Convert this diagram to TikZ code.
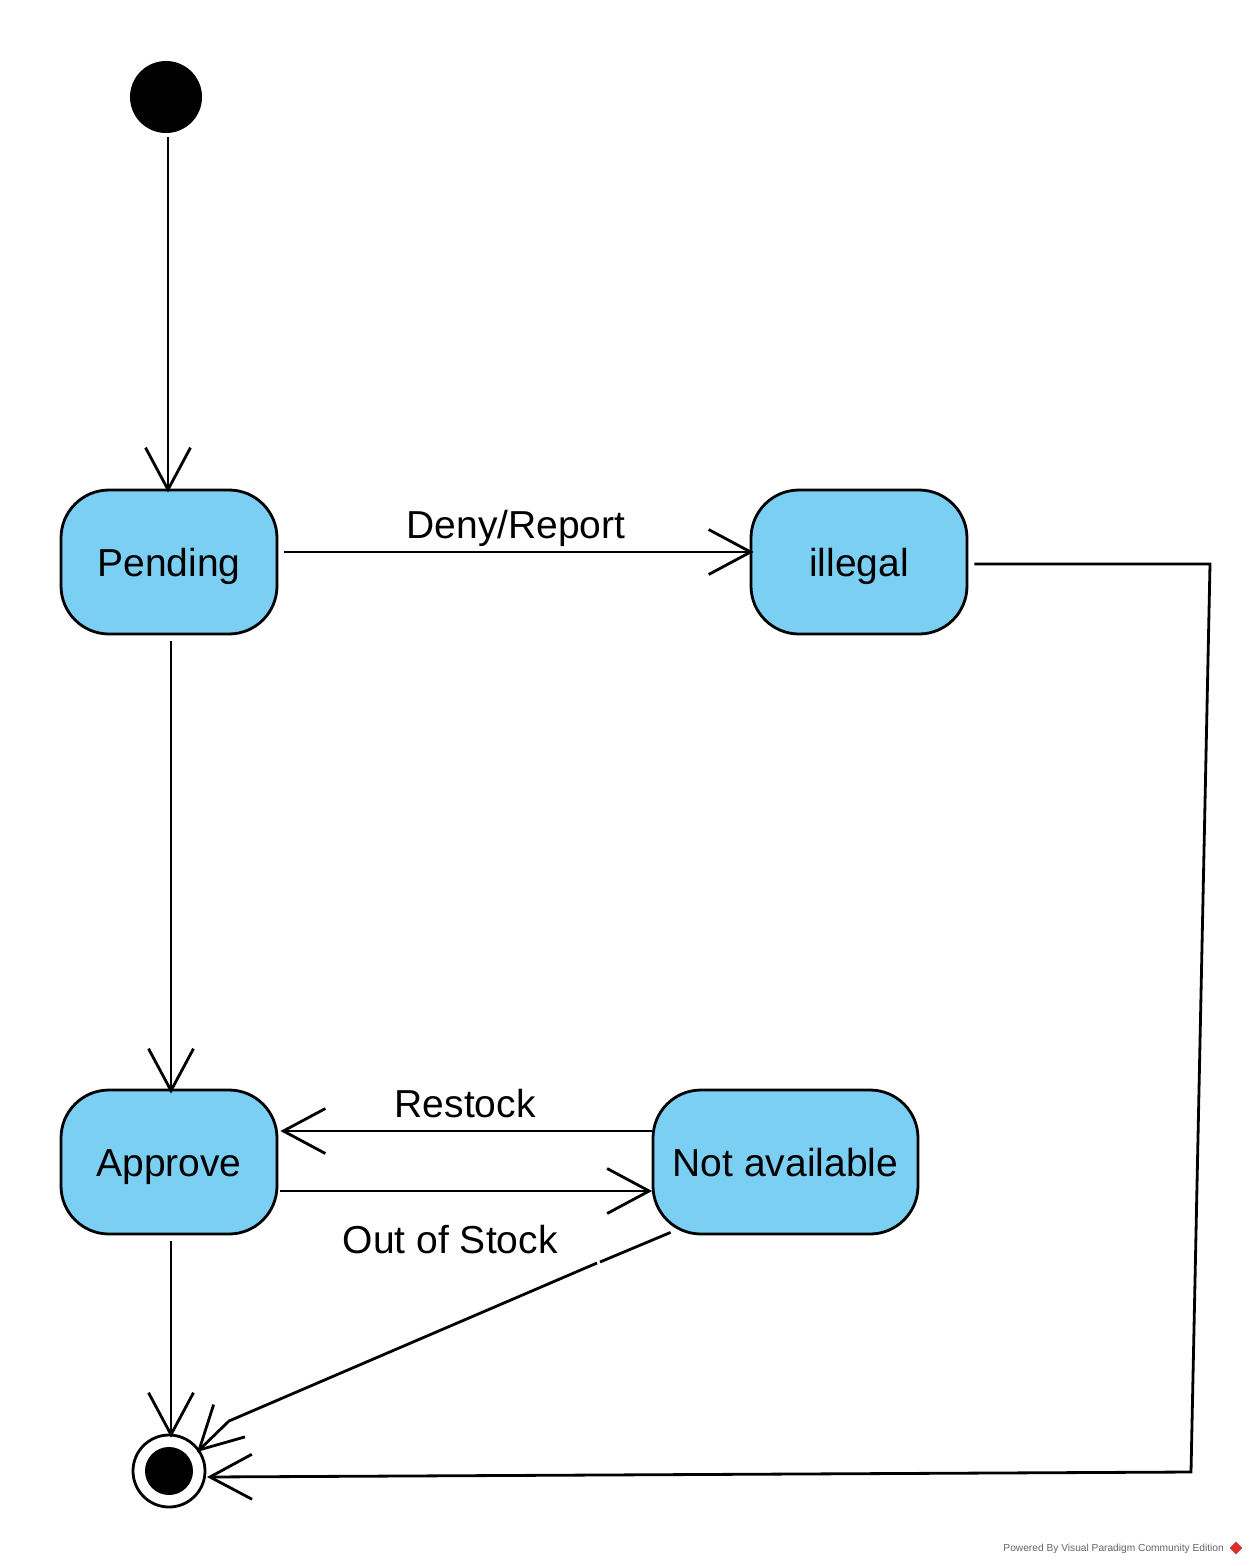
\documentclass[tikz,border=0pt]{standalone}
\usepackage{fontspec}
\setmainfont{Liberation Sans}
\usetikzlibrary{arrows.meta}
\definecolor{stfill}{HTML}{7ACFF3}
\definecolor{wmgray}{HTML}{666666}
\definecolor{wmred}{HTML}{D9302C}
\begin{document}
\begin{tikzpicture}[x=1pt,y=-1pt,
  state/.style={draw=black, line width=2.8pt, fill=stfill, rounded corners=48pt,
    minimum height=144pt, inner sep=0pt, text height=28pt, text depth=0pt,
    font=\fontsize{39}{44}\selectfont},
  tr/.style={draw=black, line width=2.8pt, line join=miter,
    -{Straight Barb[length=42pt,width=45pt,line width=2.8pt]}},
  plain/.style={draw=black, line width=2.8pt},
  lbl/.style={font=\fontsize{39}{44}\selectfont, inner sep=0pt, anchor=base}]
\useasboundingbox[fill=white] (0,0) rectangle (1248,1566);

% states
\node[circle, fill=black, minimum size=72pt, inner sep=0pt] (init) at (166,97) {};
\node[state, minimum width=216pt] (pend) at (169,562) {Pending};
\node[state, minimum width=216pt] (illg) at (859,562) {illegal};
\node[state, minimum width=216pt] (appr) at (169,1162) {Approve};
\node[state, minimum width=265pt] (nav) at (785.5,1162) {Not available};
\node[circle, draw=black, line width=2.8pt, fill=white, minimum size=72pt, inner sep=0pt] (fin) at (169,1471) {};
\fill[black] (fin.center) circle (24);

% transitions
\draw[tr] ([shift={(2,4)}]init.south) -- ([shift={(2,4)}]init.south |- pend.north);
\draw[tr] ([shift={(6,-10)}]pend.east) -- node[lbl, pos=0.5, yshift=14pt, xshift=-3pt] {Deny/Report} ([shift={(4,-10)}]illg.west);
\draw[tr] ([shift={(2,6)}]pend.south) -- ([shift={(2,5)}]appr.north);
\draw[tr] ([shift={(0.5,-31)}]nav.west) -- node[lbl, pos=0.5, yshift=14pt, xshift=-1pt] {Restock} ([shift={(2,-31)}]appr.east);
\draw[tr] ([shift={(2,29)}]appr.east) -- node[lbl, pos=0.5, yshift=-62pt, xshift=-16pt] {Out of Stock} ([shift={(0.5,29)}]nav.west);
\draw[tr] ([shift={(2,6)}]appr.south) -- ([shift={(2,4)}]fin.north);
\draw[plain] ([shift={(19,-3)}]nav.south west) -- (600,1262);
\draw[tr] (597,1263) -- (229,1421) -- ([shift={(28,-19)}]fin.center);
\draw[tr] ([shift={(6,2)}]illg.east) -- (1210,564) -- (1191,1472) -- ([shift={(38,6)}]fin.center);

% watermark
\node[anchor=east, inner sep=0pt, text=wmgray, font=\fontsize{10.2}{12}\selectfont] (wm) at (1224,1549) {Powered By Visual Paradigm Community Edition};
\node[fill=wmred, rotate=45, minimum size=9pt, inner sep=0pt] (wmicon) at (1236,1548) {};
\end{tikzpicture}
\end{document}
